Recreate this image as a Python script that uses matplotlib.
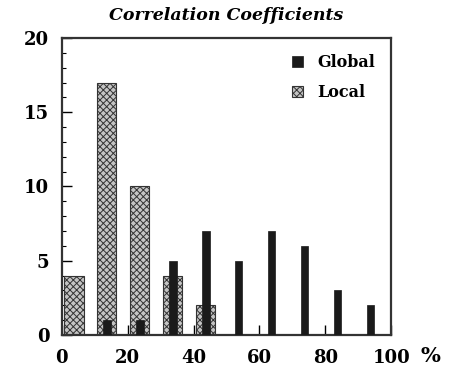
import matplotlib.pyplot as plt
import numpy as np

# bins of 10 %, counts
bins = [0, 10, 20, 30, 40, 50, 60, 70, 80, 90]
global_counts = [0, 1, 1, 5, 7, 5, 7, 6, 3, 2]
local_counts = [4, 17, 10, 4, 2, 0, 0, 0, 0, 0]
xticks = [0, 20, 40, 60, 80, 100]
yticks = [0, 5, 10, 15, 20]

plt.rcParams['font.family'] = ['DejaVu Serif']
plt.rcParams['hatch.linewidth'] = 0.7

fig = plt.figure(figsize=(4.58, 3.70), dpi=100)
ax = fig.add_axes([0.135, 0.095, 0.719, 0.802])

x = np.array(bins) + 3.7
ax.bar(x, local_counts, width=5.8, facecolor='#c4c4c4', edgecolor='#333333',
       hatch='xxxxx', linewidth=0.8, label='Local', zorder=2)
ax.bar(x, global_counts, width=2.3, facecolor='#1a1a1a', edgecolor='#1a1a1a',
       linewidth=0.5, label='Global', zorder=3)

ax.set_xlim(0, 100)
ax.set_ylim(0, 20)
ax.set_xticks(xticks)
ax.set_yticks(yticks)
ax.set_yticks(np.arange(0, 21, 1), minor=True)
ax.tick_params(axis='both', direction='in', length=7, width=1, labelsize=13,
               top=False, right=False)
ax.tick_params(axis='x', pad=10)
ax.tick_params(axis='y', pad=9)
ax.tick_params(axis='y', which='minor', direction='in', length=3, width=0.8)
for lab in ax.get_xticklabels() + ax.get_yticklabels():
    lab.set_fontweight('bold')
for s in ax.spines.values():
    s.set_linewidth(1.6)
    s.set_color('#333333')

ax.set_title('Correlation Coefficients', fontsize=12.5, style='italic',
             fontweight='bold', pad=13)
ax.text(1.12, -0.07, '%', transform=ax.transAxes, fontsize=15,
        fontweight='bold', ha='center', va='center')

h, l = ax.get_legend_handles_labels()
ax.legend(h[::-1], l[::-1], loc='upper right', frameon=False,
          handlelength=0.7, handleheight=0.7, handletextpad=0.9,
          labelspacing=0.8, borderaxespad=0.6,
          prop={'size': 11.5, 'weight': 'bold'})

fig.savefig('out.png', dpi=100)
